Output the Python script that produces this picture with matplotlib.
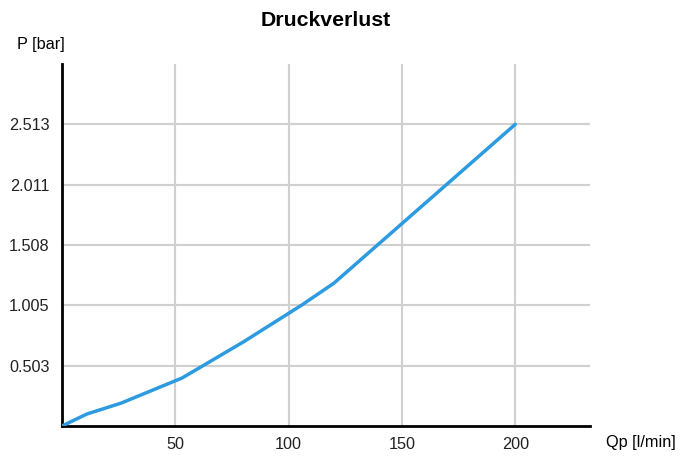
import matplotlib.pyplot as plt

plt.rcParams['font.family'] = ['Liberation Sans', 'DejaVu Sans']

# Data
qp = [0, 11, 26, 53, 80, 106, 120, 200]
p = [0, 0.10, 0.19, 0.40, 0.70, 1.01, 1.19, 2.513]
x_ticks = [50, 100, 150, 200]
y_ticks = [0.503, 1.005, 1.508, 2.011, 2.513]
y_labels = ['0.503', '1.005', '1.508', '2.011', '2.513']

fig = plt.figure(figsize=(6.93, 4.57), dpi=100)
ax = fig.add_axes([62 / 693, 31 / 457, 528 / 693, 362 / 457])

ax.plot(qp, p, color='#2d9be0', linewidth=2.5, zorder=3, solid_capstyle='round')

ax.set_xlim(0, 233)
ax.set_ylim(0, 3.016)
ax.set_xticks(x_ticks)
ax.set_yticks(y_ticks)
ax.set_yticklabels(y_labels)
ax.grid(True, color='#d0d0d0', linewidth=1.5, zorder=0)
ax.tick_params(length=0, labelsize=11.7, colors='#222222')
ax.tick_params(axis='y', pad=9)
ax.tick_params(axis='x', pad=8)

for side in ['top', 'right']:
    ax.spines[side].set_visible(False)
for side in ['left', 'bottom']:
    ax.spines[side].set_linewidth(2)
    ax.spines[side].set_color('black')

fig.text(326 / 693, 1 - 20 / 457, 'Druckverlust', ha='center', va='center',
         fontsize=15.3, fontweight='bold')
fig.text(17 / 693, 1 - 44 / 457, 'P [bar]', ha='left', va='center', fontsize=11.7)
fig.text(606 / 693, 1 - 443 / 457, 'Qp [l/min]', ha='left', va='center', fontsize=11.7)

fig.savefig('out.png', dpi=100)
plt.close()
